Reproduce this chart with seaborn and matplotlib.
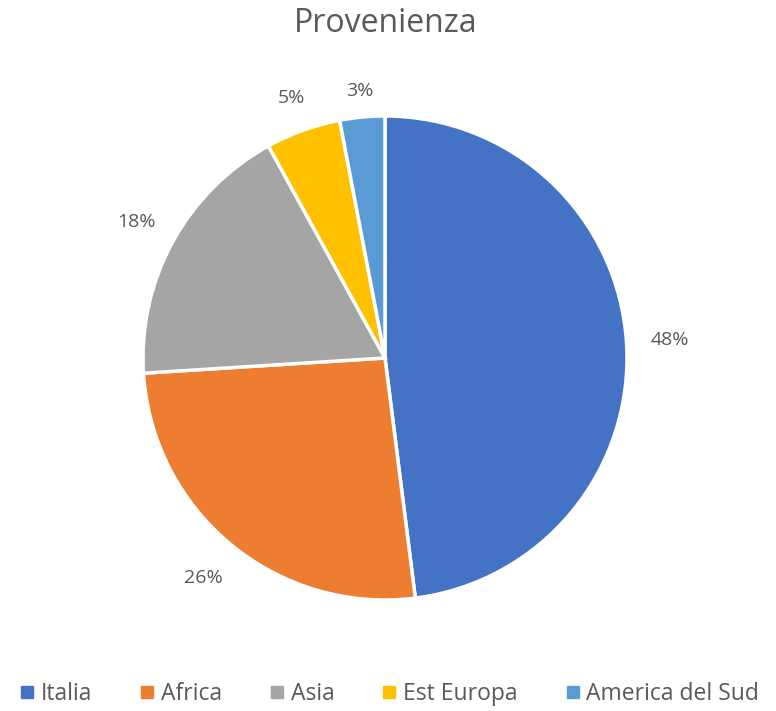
import matplotlib
matplotlib.use("Agg")
import numpy as np
import matplotlib.pyplot as plt
import seaborn as sns
from matplotlib.lines import Line2D

categories = ["Italia", "Africa", "Asia", "Est Europa", "America del Sud"]
values = [48, 26, 18, 5, 3]
colors = sns.color_palette(["#4472C4", "#ED7D31", "#A5A5A5", "#FFC000", "#5B9BD5"])
# how far out each percent label sits (in radii)
label_dist = [1.18, 1.18, 1.17, 1.14, 1.11]

sns.set_theme(style="white")
plt.rcParams['font.family'] = ['Open Sans', 'DejaVu Sans']
text_col = "#595959"

fig = plt.figure(figsize=(7.76, 7.11), dpi=100)
# axes sized so the pie radius is ~242 px, centred at (385, 358)
r_px = 242
cx, cy = 385, 358
ax = fig.add_axes([(cx - r_px) / 776, 1 - (cy + r_px) / 711, 2 * r_px / 776, 2 * r_px / 711])

wedges, texts = ax.pie(
    values, colors=colors, startangle=90, counterclock=False,
    wedgeprops=dict(edgecolor="white", linewidth=2.5))
for w, v, d in zip(wedges, values, label_dist):
    ang = np.deg2rad((w.theta1 + w.theta2) / 2)
    ax.text(d * np.cos(ang), d * np.sin(ang), f"{v}%", ha="center", va="center",
            color=text_col, fontsize=14)
ax.set_xlim(-1, 1)
ax.set_ylim(-1, 1)
ax.set_aspect("equal")
ax.axis("off")

fig.text(0.497, 1 - 23 / 711, "Provenienza", ha="center", va="center",
         fontsize=23, color=text_col)

handles = [Line2D([], [], marker="s", linestyle="", markersize=8,
                  markerfacecolor=c, markeredgecolor=c) for c in colors]
fig.legend(handles, categories, loc="center", bbox_to_anchor=(0.5, 1 - 694 / 711),
           ncol=5, frameon=False, fontsize=16.5, labelcolor=text_col,
           handletextpad=0.15, columnspacing=1.95, handlelength=0.9)

fig.savefig("out.png", dpi=100)
